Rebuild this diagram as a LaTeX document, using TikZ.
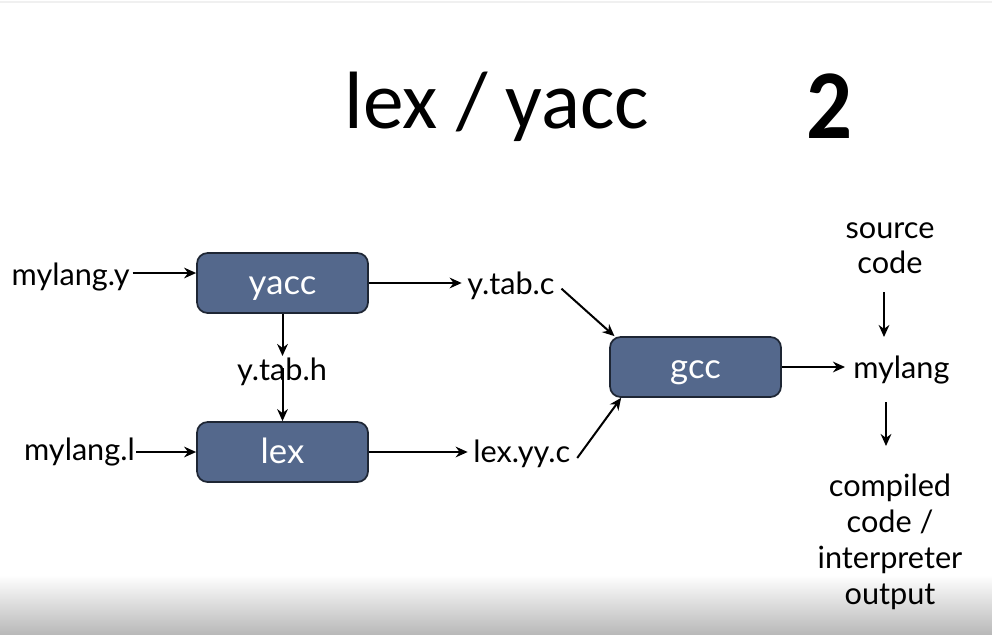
\documentclass[tikz,border=0pt]{standalone}
\usepackage{fontspec}
\setmainfont{Lato}
\newfontfamily\titlefont{Carlito}
\usetikzlibrary{arrows.meta}
\definecolor{boxfill}{RGB}{84,104,140}
\definecolor{boxline}{RGB}{30,38,52}
\begin{document}
\begin{tikzpicture}[x=0.75pt,y=-0.75pt,
  proc/.style={draw=boxline,line width=1.3pt,fill=boxfill,rounded corners=8pt,
    minimum width=171*0.75pt,minimum height=60*0.75pt,inner sep=0pt,
    text height=20pt,text depth=3pt,
    text=white,font=\fontsize{26}{30}\selectfont},
  lbl/.style={inner sep=0pt,font=\fontsize{23}{26}\selectfont,text=black},
  arr/.style={-{Stealth[length=9pt,width=8pt]},line width=1.5pt,black}]
\useasboundingbox (0,0) rectangle (992,635);
\shade[top color=white,bottom color=black!28] (0,575) rectangle (992,635);
\draw[black!6,line width=1pt] (0,2) -- (992,2);
% title
\node[inner sep=0pt,font=\titlefont\fontsize{61}{64}\selectfont] (title) at (497,107) {lex / yacc};
\node[inner sep=0pt,font=\titlefont\bfseries\fontsize{74}{78}\selectfont,xscale=0.92] (num) at (829,106) {2};
% boxes
\node[proc] (yacc) at (282.5,283) {yacc};
\node[proc] (lex) at (282.5,452) {lex};
\node[proc] (gcc) at (695.5,367) {gcc};
% labels
\node[lbl,anchor=east] (my) at (130,277) {mylang.y};
\node[lbl,anchor=east] (ml) at (135,452) {mylang.l};
\node[lbl,anchor=west] (ytc) at (467,286) {y.tab.c};
\node[lbl,anchor=west] (lyc) at (473,454) {lex.yy.c};
\node[lbl] (yth) at (282,372) {y.tab.h};
\node[lbl,anchor=west] (mylang) at (853,370) {mylang};
\node[lbl,align=center] (src) at (890,248) {source\\code};
\node[lbl,align=center,font=\fontsize{23}{27}\selectfont] (out) at (890,542) {compiled\\code /\\interpreter\\output};
% coordinates
\coordinate (ythtop) at (282.5,356);
\coordinate (ythbot) at (282.5,368);
\coordinate (srcend) at (884,292);
\coordinate (mylangin) at (884,337);
\coordinate (mylangout) at (886,402);
\coordinate (outin) at (886,446);
% connectors
\draw[arr] (my.east) ++(2pt,3pt) coordinate (a1) -- (a1 -| yacc.west);
\draw[arr] (ml.east) ++(1pt,0) -- (yacc.west |- ml.east);
\draw[arr] (yacc.east) -- ([xshift=-4pt]yacc.east -| ytc.west);
\draw[arr] (lex.east) -- ([xshift=-4pt]lex.east -| lyc.west);
\draw[arr] (yacc.south) -- (ythtop);
\draw[arr] (ythbot) -- (lex.north);
\draw[arr] ([xshift=5pt,yshift=-2pt]ytc.east) -- ([xshift=4pt]gcc.north west);
\draw[arr] ([xshift=5pt,yshift=-3pt]lyc.east) -- ([xshift=9pt]gcc.south west);
\draw[arr] (gcc.east) -- ([xshift=-6pt]gcc.east -| mylang.west);
\draw[arr] (srcend) -- (mylangin);
\draw[arr] (mylangout) -- (outin);
\end{tikzpicture}
\end{document}
